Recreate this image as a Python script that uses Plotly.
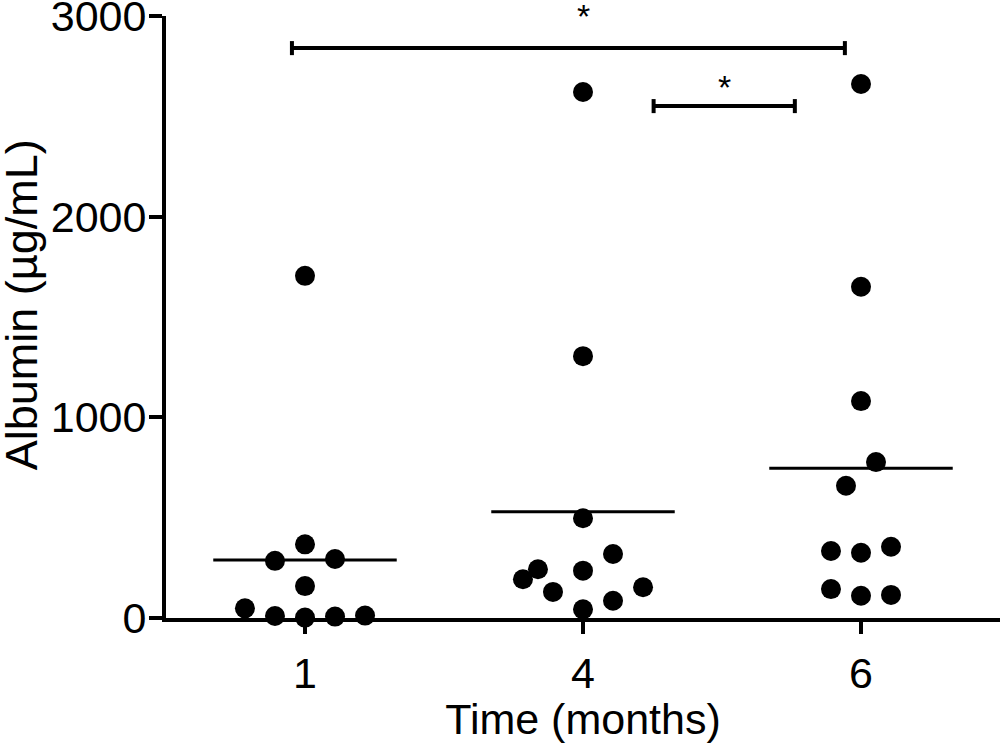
import numpy as np
import plotly.graph_objects as go

# values (ug/mL), one list per time point
months = ["1", "4", "6"]
albumin_1m = [1705, 367, 294, 285, 159, 48, 12, 10, 7, 2]
albumin_4m = [2621, 1305, 497, 319, 243, 193, 236, 130, 153, 86, 43]
albumin_6m = [2661, 1651, 1081, 777, 659, 355, 334, 325, 144, 111, 115]

# horizontal scatter of the dots, in category units
jitter_1m = [0, 0, 0.108, -0.108, 0, -0.216, 0.216, -0.108, 0.108, 0]
jitter_4m = [0, 0, 0, 0.108, -0.162, -0.216, 0, -0.108, 0.216, 0.108, 0]
jitter_6m = [0, 0, 0, 0.054, -0.054, 0.108, -0.108, 0, -0.108, 0, 0.108]

# significance brackets: start, end, height, label
bracket_x0 = [-0.047, 1.254]
bracket_x1 = [1.942, 1.762]
bracket_y = [2840, 2551]
bracket_text = ["*", "*"]

y_ticks = [0, 1000, 2000, 3000]

FONT = "Liberation Sans, Arial, Helvetica, sans-serif"
groups = [albumin_1m, albumin_4m, albumin_6m]
jitters = [jitter_1m, jitter_4m, jitter_6m]

fig = go.Figure()

for i, (vals, jit) in enumerate(zip(groups, jitters)):
    fig.add_trace(go.Scatter(
        x=[i + j for j in jit], y=vals,
        mode="markers",
        marker=dict(color="black", size=20),
        cliponaxis=False,
        showlegend=False,
    ))
    # mean line
    m = float(np.mean(vals))
    fig.add_trace(go.Scatter(
        x=[i - 0.33, i + 0.33], y=[m, m],
        mode="lines",
        line=dict(color="black", width=3),
        cliponaxis=False,
        showlegend=False,
    ))

cap = 35
for x0, x1, yb, txt in zip(bracket_x0, bracket_x1, bracket_y, bracket_text):
    fig.add_trace(go.Scatter(
        x=[x0, x0, None, x0, x1, None, x1, x1],
        y=[yb - cap, yb + cap, None, yb, yb, None, yb - cap, yb + cap],
        mode="lines",
        line=dict(color="black", width=4),
        cliponaxis=False,
        showlegend=False,
    ))

fig.add_annotation(x=1, y=bracket_y[0], yshift=11, text=bracket_text[0],
                   showarrow=False, yanchor="bottom",
                   font=dict(family=FONT, size=34, color="black"))
fig.add_annotation(x=(bracket_x0[1] + bracket_x1[1]) / 2, y=bracket_y[1], yshift=-2,
                   text=bracket_text[1], showarrow=False, yanchor="bottom",
                   font=dict(family=FONT, size=34, color="black"))

# y title placed by hand (it sits a bit above the axis middle in the original)
fig.add_annotation(xref="paper", yref="paper", x=-0.174, y=0.521,
                   text="Albumin (µg/mL)", textangle=-90, showarrow=False,
                   xanchor="center", yanchor="middle",
                   font=dict(family=FONT, size=45, color="black"))

fig.update_layout(
    width=1000, height=743,
    margin=dict(l=166, r=0, t=16, b=125),
    paper_bgcolor="white",
    plot_bgcolor="white",
    font=dict(family=FONT, color="black"),
    xaxis=dict(
        range=[-0.5, 2.5],
        tickmode="array", tickvals=[0, 1, 2], ticktext=months,
        showgrid=False, zeroline=False, automargin=False,
        showline=True, linecolor="black", linewidth=4,
        ticks="outside", ticklen=12, tickwidth=4, tickcolor="black",
        tickfont=dict(size=43), ticklabeloverflow="allow", ticklabelstandoff=2,
        title=dict(text="Time (months)", font=dict(size=43), standoff=8),
    ),
    yaxis=dict(
        range=[0, 3000],
        tickmode="array", tickvals=y_ticks,
        showgrid=False, zeroline=False, automargin=False,
        showline=True, linecolor="black", linewidth=4,
        ticks="outside", ticklen=13, tickwidth=4, tickcolor="black",
        tickfont=dict(size=43), ticklabeloverflow="allow", ticklabelstandoff=-6,
    ),
)

# drop the page's default body margin so the figure starts at the window corner
fig.write_html("out.html", config={"displayModeBar": False},
               post_script="document.body.style.margin='0';")
